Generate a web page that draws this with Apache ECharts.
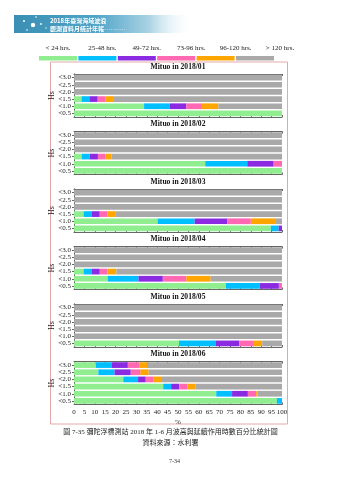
<!DOCTYPE html>
<html>
<head>
<meta charset="utf-8">
<script src="https://cdn.jsdelivr.net/npm/echarts@6/dist/echarts.min.js"></script>
<style>
html,body{margin:0;padding:0;background:#fff;}
#c{width:339px;height:480px;}
</style>
</head>
<body>
<div id="c"></div>
<script>
// ---- data ----
const hsLabels = ['<0.5', '<1.0', '<1.5', '<2.0', '<2.5', '<3.0'];
const classNames = ['< 24 hrs.', '25-48 hrs.', '49-72 hrs.', '73-96 hrs.', '96-120 hrs.', '> 120 hrs.'];
const months = ['2018/01', '2018/02', '2018/03', '2018/04', '2018/05', '2018/06'];
const xTicks = [0, 100, 5];
// each row = one month, columns follow hsLabels (<0.5 ... <3.0), values in %
const dur24 = [
  [100, 33.7, 3.6, 0, 0, 0],
  [100, 63.1, 3.7, 0, 0, 0],
  [94.6, 40.2, 4.6, 0, 0, 0],
  [73.0, 16.2, 4.6, 0, 0, 0],
  [50.5, 0, 0, 0, 0, 0],
  [97.5, 68.4, 42.9, 23.7, 11.7, 10.5]
];
const dur48 = [
  [0, 12.4, 3.8, 0, 0, 0],
  [0, 20.2, 3.8, 0, 0, 0],
  [3.8, 17.8, 3.8, 0, 0, 0],
  [16.3, 14.8, 3.8, 0, 0, 0],
  [17.5, 0, 0, 0, 0, 0],
  [2.5, 7.6, 3.8, 7.1, 7.8, 7.5]
];
const dur72 = [
  [0, 7.9, 4.0, 0, 0, 0],
  [0, 12.7, 4.0, 0, 0, 0],
  [1.6, 15.6, 4.0, 0, 0, 0],
  [9.2, 11.7, 4.0, 0, 0, 0],
  [11.4, 0, 0, 0, 0, 0],
  [0, 7.6, 4.0, 3.7, 7.8, 7.9]
];
const dur96 = [
  [0, 7.5, 3.8, 0, 0, 0],
  [0, 4.0, 3.7, 0, 0, 0],
  [0, 11.4, 3.7, 0, 0, 0],
  [1.5, 11.3, 3.7, 0, 0, 0],
  [7.1, 0, 0, 0, 0, 0],
  [0, 4.0, 3.8, 3.8, 4.6, 5.4]
];
const dur120 = [
  [0, 7.9, 4.0, 0, 0, 0],
  [0, 0, 2.9, 0, 0, 0],
  [0, 11.7, 4.0, 0, 0, 0],
  [0, 11.7, 4.3, 0, 0, 0],
  [4.0, 0, 0, 0, 0, 0],
  [0, 0.6, 4.0, 4.0, 4.0, 3.8]
];
const durOver120 = [
  [0, 30.6, 80.8, 100, 100, 100],
  [0, 0, 81.9, 100, 100, 100],
  [0, 3.3, 79.9, 100, 100, 100],
  [0, 34.3, 79.6, 100, 100, 100],
  [9.5, 100, 100, 100, 100, 100],
  [0, 11.8, 41.5, 57.7, 64.1, 64.9]
];
const classData = [dur24, dur48, dur72, dur96, dur120, durOver120];

// ---- styles / layout ----
const colors = ['#90ee90', '#00bfff', '#8a2be2', '#ff69b4', '#ffa500', '#a9a9a9'];
const serif = '"Liberation Serif", "Times New Roman", serif';
const cjk = '"Liberation Serif", "Noto Sans CJK TC", serif';
const gridTops = [74, 131.5, 189, 246.5, 304, 361.5];
const gridH = 43, gridLeft = 74, gridW = 208;
const axisCol = '#666';

const grids = [], xAxes = [], yAxes = [], series = [], titles = [];
months.forEach((m, g) => {
  const last = g === months.length - 1;
  grids.push({left: gridLeft, width: gridW, top: gridTops[g], height: gridH});
  titles.push({
    text: 'Mituo in ' + m, left: gridLeft + gridW / 2, top: gridTops[g] - 7,
    textAlign: 'center', textVerticalAlign: 'middle', padding: 0,
    textStyle: {fontFamily: serif, fontWeight: 'bold', fontSize: 7.6, color: '#111'}
  });
  xAxes.push({
    gridIndex: g, type: 'value', min: xTicks[0], max: xTicks[1], interval: xTicks[2],
    position: 'bottom',
    axisLine: {show: true, lineStyle: {color: axisCol, width: 1}},
    axisTick: {show: true, inside: true, length: 2, lineStyle: {color: axisCol}},
    axisLabel: {show: last, fontFamily: serif, fontSize: 7, color: '#222', margin: 4},
    splitLine: {show: false},
    name: last ? '%' : '', nameLocation: 'middle', nameGap: 14,
    nameTextStyle: {fontFamily: serif, fontSize: 7, color: '#222'}
  });
  xAxes.push({
    gridIndex: g, type: 'value', min: xTicks[0], max: xTicks[1], interval: xTicks[2],
    position: 'top',
    axisLine: {show: true, lineStyle: {color: axisCol, width: 1}},
    axisTick: {show: true, inside: true, length: 2, lineStyle: {color: axisCol}},
    axisLabel: {show: false}, splitLine: {show: false}
  });
  yAxes.push({
    gridIndex: g, type: 'category', data: hsLabels, position: 'left',
    axisLine: {show: true, lineStyle: {color: axisCol, width: 1}},
    axisTick: {show: true, alignWithLabel: true, length: 2, lineStyle: {color: axisCol}},
    axisLabel: {interval: 0, fontFamily: serif, fontSize: 7, lineHeight: 7, color: '#222', margin: 3},
    name: 'Hs', nameLocation: 'middle', nameGap: 18, nameRotate: 90, nameMoveOverlap: false,
    nameTextStyle: {fontFamily: serif, fontSize: 8, color: '#222'}
  });
  yAxes.push({
    gridIndex: g, type: 'category', data: hsLabels, position: 'right',
    axisLine: {show: true, lineStyle: {color: axisCol, width: 1}},
    axisTick: {show: true, alignWithLabel: true, length: 2, lineStyle: {color: axisCol}},
    axisLabel: {show: false}
  });
  classNames.forEach((cn, c) => {
    series.push({
      type: 'bar', name: cn, stack: 'm' + g,
      xAxisIndex: 2 * g, yAxisIndex: 2 * g,
      data: classData[c][g],
      barCategoryGap: '20%',
      itemStyle: {color: colors[c]},
      emphasis: {disabled: true},
      animation: false
    });
  });
});

const legendLeft = 39, legendStep = 44.4, swatchW = 38;
const graphics = [];
// banner
graphics.push({
  type: 'rect', shape: {x: 14, y: 15, width: 180, height: 18},
  style: {fill: {type: 'linear', x: 0, y: 0, x2: 1, y2: 0, colorStops: [
    {offset: 0, color: '#3b8fb4'}, {offset: 0.45, color: '#4ea3c6'},
    {offset: 0.75, color: '#a9d3e4'}, {offset: 1, color: 'rgba(255,255,255,0)'}]}},
  silent: true
});
[[24, 21, 1], [36, 17, 0.8], [41, 24, 0.9], [27, 30, 0.8], [46, 28, 0.7]].forEach(d => {
  graphics.push({type: 'circle', shape: {cx: d[0], cy: d[1], r: d[2]}, style: {fill: '#fff'}, silent: true});
});
graphics.push({type: 'circle', shape: {cx: 33, cy: 25, r: 2.2}, style: {fill: '#fff'}, silent: true});
graphics.push({type: 'text', x: 50, y: 21, style: {text: '2018年臺灣海域波浪', fill: '#fff',
  font: 'bold 6px "Noto Sans CJK TC"', verticalAlign: 'middle'}, silent: true});
graphics.push({type: 'text', x: 50, y: 28.3, style: {text: '觀測資料月統計年報', fill: '#fff',
  font: 'bold 6px "Noto Sans CJK TC"', verticalAlign: 'middle'}, silent: true});
graphics.push({type: 'line', shape: {x1: 100, y1: 29.5, x2: 125, y2: 29.5},
  style: {stroke: '#e8f4f8', lineWidth: 0.6, lineDash: [1, 1.2]}, silent: true});
// legend labels
classNames.forEach((cn, i) => {
  graphics.push({type: 'text', x: legendLeft + i * legendStep + swatchW / 2, y: 48.5,
    style: {text: cn, fill: '#222', font: '7px ' + serif, align: 'center', verticalAlign: 'middle'}, silent: true});
});
// frame
graphics.push({type: 'rect', shape: {x: 50.5, y: 62, width: 237, height: 362},
  style: {fill: 'none', stroke: '#e3a9a9', lineWidth: 1}, silent: true, z: -1});
// captions
graphics.push({type: 'text', x: 170.5, y: 432.5, style: {text: '圖 7-35 彌陀浮標測站 2018 年 1-6 月波高與延續作用時數百分比統計圖',
  fill: '#222', font: '7px ' + cjk, align: 'center', verticalAlign: 'middle'}, silent: true});
graphics.push({type: 'text', x: 170.5, y: 443.5, style: {text: '資料來源：水利署',
  fill: '#222', font: '7px ' + cjk, align: 'center', verticalAlign: 'middle'}, silent: true});
graphics.push({type: 'text', x: 174.5, y: 461.7, style: {text: '7-34',
  fill: '#333', font: '6px ' + serif, align: 'center', verticalAlign: 'middle'}, silent: true});

const chart = echarts.init(document.getElementById('c'), null, {renderer: 'canvas'});
chart.setOption({
  backgroundColor: '#fff',
  animation: false,
  title: titles,
  legend: {
    data: classNames, left: legendLeft, top: 56, padding: 0,
    itemWidth: swatchW, itemHeight: 4.5, itemGap: legendStep - swatchW - 5,
    icon: 'rect', formatter: () => '', selectedMode: false,
    textStyle: {fontSize: 1}
  },
  grid: grids,
  xAxis: xAxes,
  yAxis: yAxes,
  series: series,
  graphic: {elements: graphics}
});
</script>
</body>
</html>
